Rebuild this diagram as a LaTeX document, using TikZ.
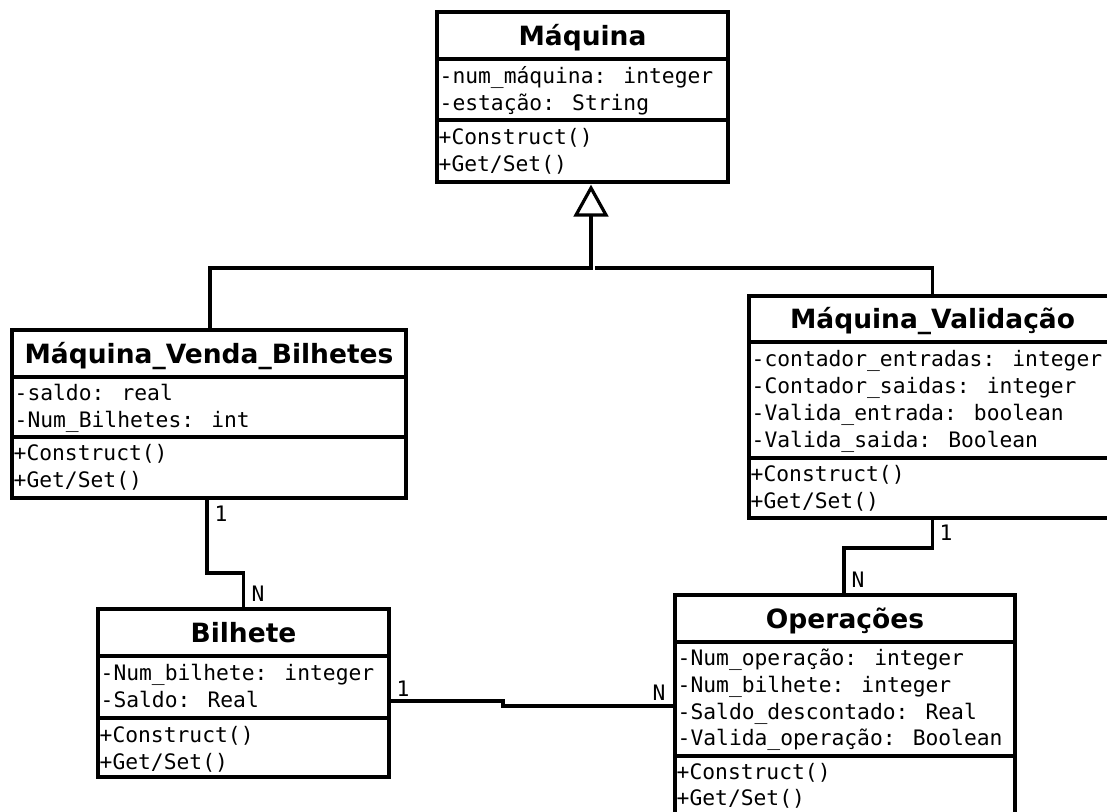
\documentclass[tikz,border=0pt]{standalone}
\usepackage{fontspec}
\newfontfamily\monof{DejaVu Sans Mono}
\newfontfamily\titlef{DejaVu Sans}
\begin{document}
\begin{tikzpicture}[x=1pt,y=-1pt,
  classbox/.style={draw=black,line width=3.4pt,fill=white,rectangle,inner sep=0pt,outer sep=0pt},
  divider/.style={draw=black,line width=3.2pt},
  conn/.style={draw=black,line width=3.2pt,line cap=rect},
  titletext/.style={anchor=base,inner sep=0pt,font=\titlef\bfseries\fontsize{26.5}{30}\selectfont},
  attrtext/.style={anchor=base west,inner sep=0pt,font=\monof\fontsize{21.3}{25}\selectfont},
  labtext/.style={anchor=center,inner sep=0pt,font=\monof\fontsize{21.3}{25}\selectfont}]
\fill[white] (0,0) rectangle (1107,811);
\clip (0,0) rectangle (1107,811);

% ---------- Maquina ----------
\node[classbox,minimum width=291pt,minimum height=170pt] (maq) at (582.5,97) {};
\draw[divider] (maq.west |- 0,59) -- (maq.east |- 0,59);
\draw[divider] (maq.west |- 0,120) -- (maq.east |- 0,120);
\node[titletext] (maqT) at (582.5,45) {Máquina};
\node[attrtext] (maqA1) at (439.5,83) {-num\_máquina: integer};
\node[attrtext] (maqA2) at (439.5,110) {-estação: String};
\node[attrtext] (maqM1) at (438.5,144) {+Construct()};
\node[attrtext] (maqM2) at (438.5,171) {+Get/Set()};

% ---------- Maquina_Venda_Bilhetes ----------
\node[classbox,minimum width=394pt,minimum height=168pt] (venda) at (209,414) {};
\draw[divider] (venda.west |- 0,377) -- (venda.east |- 0,377);
\draw[divider] (venda.west |- 0,437) -- (venda.east |- 0,437);
\node[titletext] (vendaT) at (209,363) {Máquina\_Venda\_Bilhetes};
\node[attrtext] (vendaA1) at (14.5,400) {-saldo: real};
\node[attrtext] (vendaA2) at (14.5,427) {-Num\_Bilhetes: int};
\node[attrtext] (vendaM1) at (13.5,460) {+Construct()};
\node[attrtext] (vendaM2) at (13.5,487) {+Get/Set()};

% ---------- Maquina_Validacao ----------
\node[classbox,minimum width=367pt,minimum height=222pt] (valid) at (932.5,407) {};
\draw[divider] (valid.west |- 0,342) -- (valid.east |- 0,342);
\draw[divider] (valid.west |- 0,458) -- (valid.east |- 0,458);
\node[titletext] (validT) at (932.5,328.5) {Máquina\_Validação};
\node[attrtext] (validA1) at (751.5,366) {-contador\_entradas: integer};
\node[attrtext] (validA2) at (751.5,393) {-Contador\_saidas: integer};
\node[attrtext] (validA3) at (751.5,420) {-Valida\_entrada: boolean};
\node[attrtext] (validA4) at (751.5,447) {-Valida\_saida: Boolean};
\node[attrtext] (validM1) at (750.5,481) {+Construct()};
\node[attrtext] (validM2) at (750.5,508) {+Get/Set()};

% ---------- Bilhete ----------
\node[classbox,minimum width=291pt,minimum height=168pt] (bil) at (243.5,693) {};
\draw[divider] (bil.west |- 0,656) -- (bil.east |- 0,656);
\draw[divider] (bil.west |- 0,718) -- (bil.east |- 0,718);
\node[titletext] (bilT) at (243.5,642) {Bilhete};
\node[attrtext] (bilA1) at (100.5,680) {-Num\_bilhete: integer};
\node[attrtext] (bilA2) at (100.5,707) {-Saldo: Real};
\node[attrtext] (bilM1) at (99.5,742) {+Construct()};
\node[attrtext] (bilM2) at (99.5,769) {+Get/Set()};

% ---------- Operacoes ----------
\node[classbox,minimum width=340pt,minimum height=223pt] (op) at (845,706.5) {};
\draw[divider] (op.west |- 0,642) -- (op.east |- 0,642);
\draw[divider] (op.west |- 0,756) -- (op.east |- 0,756);
\node[titletext] (opT) at (845,628) {Operações};
\node[attrtext] (opA1) at (677.5,665) {-Num\_operação: integer};
\node[attrtext] (opA2) at (677.5,692) {-Num\_bilhete: integer};
\node[attrtext] (opA3) at (677.5,719) {-Saldo\_descontado: Real};
\node[attrtext] (opA4) at (677.5,745) {-Valida\_operação: Boolean};
\node[attrtext] (opM1) at (676.5,779) {+Construct()};
\node[attrtext] (opM2) at (676.5,805) {+Get/Set()};

% ---------- Generalization ----------
\coordinate (apex) at (591,188);
\coordinate (gL) at (591,268);
\coordinate (gR) at (597,268);
\coordinate (tbase) at (591,215);
\draw[conn] (venda.north -| 210,0) |- (gL) -- (tbase);
\draw[conn] (valid.north) |- (gR);
\draw[black,line width=3.2pt,fill=white,line join=miter] (apex) -- ++(-15,27) -- ++(30,0) -- cycle;

% ---------- Venda - Bilhete ----------
\coordinate (vb) at (207,573);
\draw[conn] (venda.south -| vb) -- (vb) -| (bil.north);
\node[labtext] (l1) at (221,514) {1};
\node[labtext] (l2) at (258,594) {N};

% ---------- Validacao - Operacoes ----------
\coordinate (vo) at (844,548);
\draw[conn] (valid.south) |- (vo) -- (vo |- op.north);
\node[labtext] (l3) at (946,533) {1};
\node[labtext] (l4) at (858,580) {N};

% ---------- Bilhete - Operacoes ----------
\coordinate (bo1) at (503,701);
\coordinate (bo2) at (503,706);
\draw[conn] (bil.east |- bo1) -- (bo1) -- (bo2) -- (op.west |- bo2);
\node[labtext] (l5) at (403,689) {1};
\node[labtext] (l6) at (659,693) {N};
\end{tikzpicture}
\end{document}
